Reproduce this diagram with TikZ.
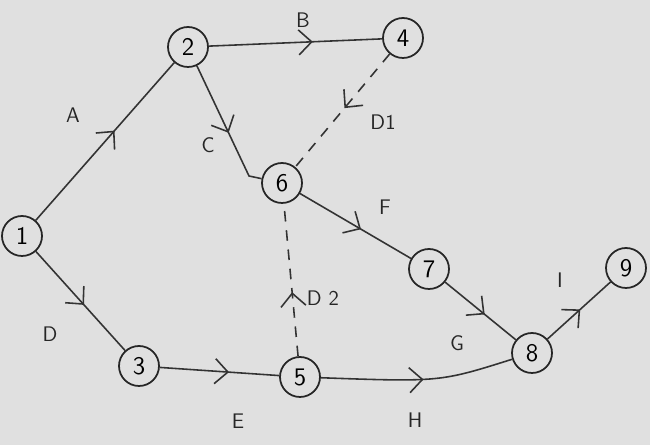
\documentclass[tikz,border=0pt]{standalone}
\usepackage{tikz}
\usetikzlibrary{arrows.meta,decorations.markings}

\tikzset{
  event/.style={circle,draw=black!85,line width=1pt,minimum size=0.8cm,inner sep=0pt,font=\Large\sffamily},
  act/.style={draw=black!80,line width=0.9pt},
  dummy/.style={act,dashed,dash pattern=on 6pt off 5pt},
  midarrow/.style={postaction={decorate},decoration={markings,
      mark=at position #1 with {\arrow{Straight Barb[length=2.6mm,width=5mm,line width=0.9pt]}}}},
  lbl/.style={font=\large\sffamily,text=black!85}
}

\begin{document}
\begin{tikzpicture}[x=0.02cm,y=-0.02cm]
  \fill[black!12] (0,0) rectangle (650,445);
  % events
  \node[event] (n1) at (22,236) {1};
  \node[event] (n2) at (188,47) {2};
  \node[event] (n3) at (139,366) {3};
  \node[event] (n4) at (403,38) {4};
  \node[event] (n5) at (300,377) {5};
  \node[event] (n6) at (282,183) {6};
  \node[event] (n7) at (429,269) {7};
  \node[event] (n8) at (532,353) {8};
  \node[event] (n9) at (626,268) {9};
  \coordinate (kC) at (249,176);
  % activities
  \draw[act,midarrow=0.57] (n1) -- (n2);
  \draw[act,midarrow=0.6] (n2) -- (n4);
  \draw[act,midarrow=0.55] (n2) -- (kC) -- (n6);
  \draw[act,midarrow=0.54] (n1) -- (n3);
  \draw[act,midarrow=0.58] (n3) -- (n5);
  \draw[act,midarrow=0.55] (n6) -- (n7);
  \draw[act,midarrow=0.56] (n7) -- (n8);
  \draw[act,midarrow=0.53] (n5) .. controls (440,382) .. (n8);
  \draw[act,midarrow=0.52] (n8) -- (n9);
  % dummies
  \draw[dummy,midarrow=0.48] (n4) -- (n6);
  \draw[dummy,midarrow=0.42] (n5) -- (n6);
  % labels
  \node[lbl] (lA) at (73,115) {A};
  \node[lbl] (lB) at (303,20) {B};
  \node[lbl] (lC) at (208,145) {C};
  \node[lbl] (lD1) at (383,122) {D1};
  \node[lbl] (lD) at (50,334) {D};
  \node[lbl] (lF) at (385,207) {F};
  \node[lbl] (lD2) at (323,298) {D 2};
  \node[lbl] (lE) at (238,421) {E};
  \node[lbl] (lH) at (415,420) {H};
  \node[lbl] (lG) at (457,343) {G};
  \node[lbl] (lI) at (560,280) {I};
\end{tikzpicture}
\end{document}
